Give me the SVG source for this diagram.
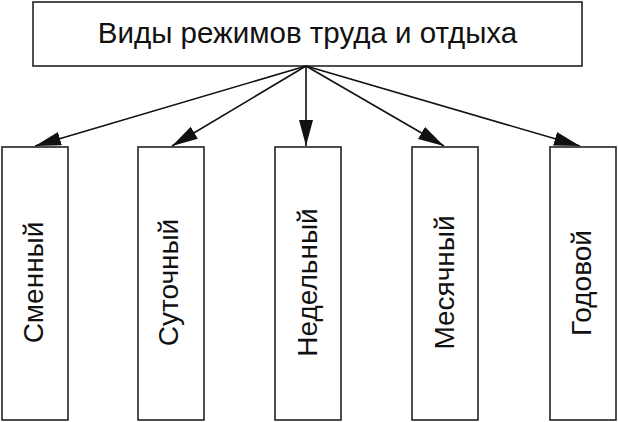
<svg xmlns="http://www.w3.org/2000/svg" width="618" height="422" viewBox="0 0 618 422">
<style>
  .box { fill: #ffffff; stroke: #222222; stroke-width: 1.6; }
  .lbl { font-family: "Liberation Sans", Arial, sans-serif; font-size: 28px; fill: #111111; text-anchor: middle; }
  .title { font-size: 29.5px; }
  .conn { stroke: #111111; stroke-width: 1.6; fill: none; marker-end: url(#arr); }
</style>
<defs>
  <marker id="arr" markerUnits="userSpaceOnUse" markerWidth="27" markerHeight="15" refX="26" refY="7" orient="auto">
    <path d="M0,0 L26,7 L0,14 z" fill="#111111"/>
  </marker>
</defs>
<rect width="618" height="422" fill="#ffffff"/>
<g id="root">
  <rect class="box" x="33" y="2" width="549" height="64"/>
  <text class="lbl title" x="307.5" y="43">Виды режимов труда и отдыха</text>
</g>
<g id="connectors">
  <path class="conn" d="M306,66 L35,146"/>
  <path class="conn" d="M306,66 L172,146"/>
  <path class="conn" d="M306,66 L306,146"/>
  <path class="conn" d="M306,66 L444,146"/>
  <path class="conn" d="M306,66 L580,146"/>
</g>
<g id="n1">
  <rect class="box" x="2" y="147" width="66" height="273"/>
  <text class="lbl" transform="translate(43,282.5) rotate(-90)">Сменный</text>
</g>
<g id="n2">
  <rect class="box" x="138" y="147" width="66" height="273"/>
  <text class="lbl" transform="translate(178,282.5) rotate(-90)">Суточный</text>
</g>
<g id="n3">
  <rect class="box" x="275" y="147" width="66" height="273"/>
  <text class="lbl" transform="translate(317,282.5) rotate(-90)">Недельный</text>
</g>
<g id="n4">
  <rect class="box" x="412" y="147" width="66" height="273"/>
  <text class="lbl" transform="translate(454,282.5) rotate(-90)">Месячный</text>
</g>
<g id="n5">
  <rect class="box" x="550" y="147" width="66" height="273"/>
  <text class="lbl" transform="translate(591,283) rotate(-90)">Годовой</text>
</g>
</svg>
